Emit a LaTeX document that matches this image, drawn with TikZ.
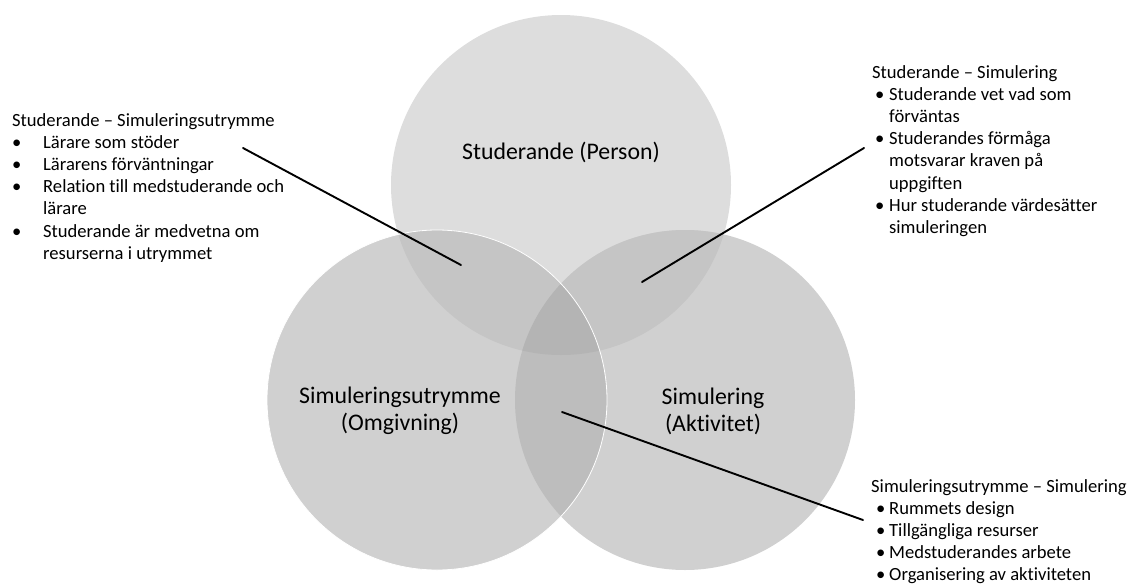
\documentclass[tikz,border=0pt]{standalone}
\usepackage{fontspec}
\setmainfont{Carlito}[Ligatures=NoCommon]
\definecolor{onegray}{HTML}{DDDDDD}
\definecolor{sidegray}{HTML}{D0D0D0}
\definecolor{pairgray}{HTML}{C5C5C5}
\definecolor{lensgray}{HTML}{BDBDBD}
\definecolor{allgray}{HTML}{B4B4B4}
\newcommand{\bl}[1]{\makebox[#1][l]{\textbullet}}
\begin{document}
\begin{tikzpicture}[x=1pt, y=-1pt,
  txt/.style={font=\fontsize{18.6}{22.2}\selectfont, align=left, anchor=north west, inner sep=0pt},
  lbl/.style={font=\fontsize{23.8}{27}\selectfont, align=center, inner sep=0pt},
  link/.style={line width=1.9pt, line cap=round}
]
\useasboundingbox (0,0) rectangle (1136,584);
\coordinate (P) at (561,185);
\coordinate (O) at (437,400);
\coordinate (A) at (685,400);
% circles
\fill[onegray] (P) circle (170pt);
\fill[sidegray] (O) circle (170pt);
\fill[sidegray] (A) circle (170pt);
\begin{scope}
  \clip (P) circle (170pt);
  \fill[pairgray] (O) circle (170pt);
  \fill[pairgray] (A) circle (170pt);
\end{scope}
\begin{scope}
  \clip (O) circle (170pt);
  \fill[lensgray] (A) circle (170pt);
  \clip (A) circle (170pt);
  \fill[allgray] (P) circle (170pt);
\end{scope}
\draw[white, line width=0.8pt] (O) circle (170pt);
\node[lbl] (person) at (561,152) {Studerande (Person)};
\node[lbl] (omgivning) at (400,411) {Simuleringsutrymme\\(Omgivning)};
\node[lbl] (aktivitet) at (713,411) {Simulering\\(Aktivitet)};
% texts
\node[txt] (ps) at (12,113) {Studerande -- Simuleringsutrymme\\
\bl{31pt}Lärare som stöder\\
\bl{31pt}Lärarens förväntningar\\
\bl{31pt}Relation till medstuderande och\\
\hspace*{31pt}lärare\\
\bl{31pt}Studerande är medvetna om\\
\hspace*{31pt}resurserna i utrymmet};
\node[txt] (pa) at (872,65) {Studerande -- Simulering\\
\hspace*{3pt}\bl{14pt}Studerande vet vad som\\
\hspace*{17pt}förväntas\\
\hspace*{3pt}\bl{14pt}Studerandes förmåga\\
\hspace*{17pt}motsvarar kraven på\\
\hspace*{17pt}uppgiften\\
\hspace*{3pt}\bl{14pt}Hur studerande värdesätter\\
\hspace*{17pt}simuleringen};
\node[txt] (oa) at (871,479) {Simuleringsutrymme -- Simulering\\
\hspace*{5pt}\bl{13pt}Rummets design\\
\hspace*{5pt}\bl{13pt}Tillgängliga resurser\\
\hspace*{5pt}\bl{13pt}Medstuderandes arbete\\
\hspace*{5pt}\bl{13pt}Organisering av aktiviteten};
% connectors
\coordinate (psend) at (243,148);
\coordinate (psin) at (461,265);
\coordinate (paend) at (864,148);
\coordinate (pain) at (642,282);
\coordinate (oain) at (562,412);
\coordinate (oaend) at (863,520);
\draw[link] (psend) -- (psin);
\draw[link] (paend) -- (pain);
\draw[link] (oain) -- (oaend);
\end{tikzpicture}
\end{document}
